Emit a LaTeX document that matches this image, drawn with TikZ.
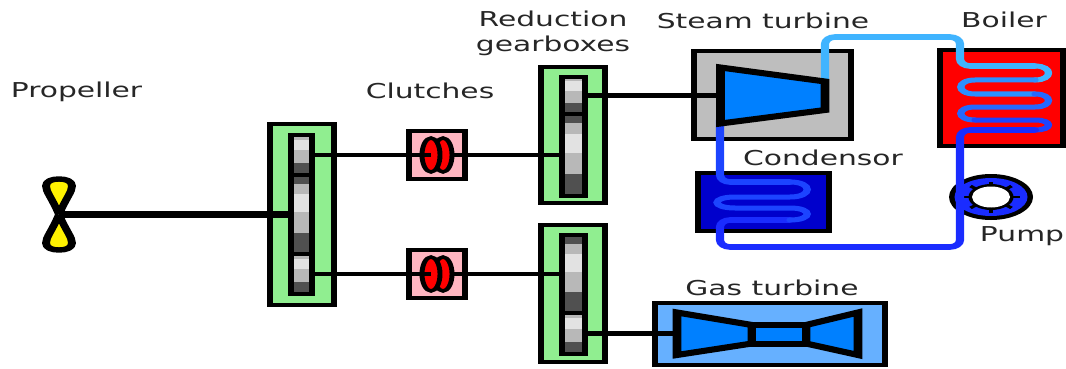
\documentclass[tikz,border=0pt]{standalone}
\usepackage{fontspec}
\setmainfont{DejaVu Sans}
\usetikzlibrary{shapes.geometric}
\definecolor{gearlight}{HTML}{E2E2E2}
\definecolor{gearmid}{HTML}{B8B8B8}
\definecolor{geardark}{HTML}{505050}
\definecolor{boxgreen}{HTML}{90EE90}
\definecolor{clutchpink}{HTML}{FFB6C1}
\definecolor{steamgrey}{HTML}{BEBEBE}
\definecolor{turbblue}{HTML}{0080FF}
\definecolor{gasbox}{HTML}{66B0FF}
\definecolor{condbox}{HTML}{0000CC}
\definecolor{pipeA}{HTML}{40B4FF}
\definecolor{pipeB}{HTML}{2C90FF}
\definecolor{pipeC}{HTML}{2468FF}
\definecolor{pipeD}{HTML}{1C44FF}
\definecolor{pipeE}{HTML}{1A2CFF}
\tikzset{
  mech/.style={rectangle,draw=black,line width=4pt,inner sep=0pt,outer sep=0pt},
  gearbox/.style={mech,fill=boxgreen},
  gearframe/.style={mech},
  clutchbox/.style={mech,fill=clutchpink},
  plate/.style={ellipse,draw=black,fill=red,line width=3.4pt,inner sep=0pt,outer sep=0pt},
  plant/.style={mech},
  blade/.style={draw=black,line width=5.4pt,line join=round},
  turb/.style={draw=black,fill=turbblue,line width=6pt,line join=miter},
  thickshaft/.style={draw=black,line width=7pt},
  shaft/.style={draw=black,line width=4.5pt},
  pipe/.style={line width=5.6pt,rounded corners=7pt,line cap=round},
  coil/.style={line width=5pt,line cap=round},
  lab/.style={font=\fontsize{20.5}{25}\selectfont,text=black!85,align=center,inner sep=0pt}
}
\newcommand{\boxnode}[6]{\node[#6,minimum width={(#4-#2)*0.68966pt},minimum height={(#5-#3)*1pt}] (#1) at ({(#2+#4)/2},{(#3+#5)/2}) {};}
\newcommand{\smallbands}[4]{\foreach \pa/\pb/\pc in {0/.12/gearmid,.12/.38/gearlight,.38/.7/gearmid,.7/1/geardark}
  \fill[fill=\pc] (#1,{#2+\pa*(#4-#2)}) rectangle (#3,{#2+\pb*(#4-#2)});}
\newcommand{\largebands}[4]{\foreach \pa/\pb/\pc in {0/.11/geardark,.11/.24/gearmid,.24/.47/gearlight,.47/.73/gearmid,.73/1/geardark}
  \fill[fill=\pc] (#1,{#2+\pa*(#4-#2)}) rectangle (#3,{#2+\pb*(#4-#2)});}
\begin{document}
\begin{tikzpicture}
\useasboundingbox (0pt,0pt) rectangle (1066pt,-369pt);
\begin{scope}[transform canvas={xscale=1.45},x=0.68966pt,y=-1pt]
% gearboxes
\boxnode{boxL}{270}{124}{334}{305}{gearbox}
\boxnode{boxRa}{541}{67}{605}{203}{gearbox}
\boxnode{boxRb}{541}{225}{605}{362}{gearbox}
% gear bands
\smallbands{291}{135}{312}{175}
\largebands{291}{175}{312}{254}
\smallbands{291}{254}{312}{294}
\smallbands{562}{77}{585}{114}
\largebands{562}{114}{585}{196}
\largebands{562}{235}{585}{313}
\smallbands{562}{313}{585}{354}
% gear frames
\boxnode{gL1}{291}{135}{312}{175}{gearframe}
\boxnode{gL2}{291}{175}{312}{254}{gearframe}
\boxnode{gL3}{291}{254}{312}{294}{gearframe}
\boxnode{gRa1}{562}{77}{585}{114}{gearframe}
\boxnode{gRa2}{562}{114}{585}{196}{gearframe}
\boxnode{gRb1}{562}{235}{585}{313}{gearframe}
\boxnode{gRb2}{562}{313}{585}{354}{gearframe}
% clutches
\boxnode{clA}{409}{131}{465}{179}{clutchbox}
\boxnode{clB}{409}{250}{465}{298}{clutchbox}
\boxnode{plA2}{434}{138}{452}{172}{plate}
\boxnode{plA1}{422}{138}{440}{172}{plate}
\boxnode{plB2}{434}{257}{452}{291}{plate}
\boxnode{plB1}{422}{257}{440}{291}{plate}
% plant boxes
\boxnode{steam}{694}{51}{851}{139}{plant,fill=steamgrey}
\boxnode{boiler}{940}{50}{1063}{146}{plant,fill=red}
\boxnode{cond}{698}{173}{829}{231}{plant,fill=condbox}
\boxnode{gas}{655}{303}{885}{365}{plant,fill=gasbox}
% propeller
\coordinate (prop) at (59,214.5);
\path[blade,fill=yellow] (prop) .. controls (52,198) and (46,192) .. (46,186) .. controls (46,181) and (52,179) .. (59,179) .. controls (66,179) and (72,181) .. (72,186) .. controls (72,192) and (66,198) .. (prop);
\path[blade,fill=yellow] (prop) .. controls (52,231) and (46,237) .. (46,243) .. controls (46,248) and (52,250) .. (59,250) .. controls (66,250) and (72,248) .. (72,243) .. controls (72,237) and (66,231) .. (prop);
% shafts
\coordinate (steamin) at (716,95.5);
\coordinate (gasin) at (674,333.5);
\draw[thickshaft] (prop) -- (gL2.west);
\draw[shaft] (gL1.east) -- (plA1.center);
\draw[shaft] (plA2.east) -- (gRa2.west);
\draw[shaft] (gL3.east) -- (plB1.center);
\draw[shaft] (plB2.east) -- (gRb1.west);
\draw[shaft] (gRa1.east) -- (steamin);
\draw[shaft] (gRb2.east) -- (gasin);
% pump
\coordinate (pump) at (991,197);
\fill[black] (pump) circle [x radius=42,y radius=23];
\fill[pipeE] (pump) circle [x radius=36.5,y radius=19];
\foreach \ang in {0,45,...,315}
  \draw[black,line width=2.8pt] (pump) -- ++({29*cos(\ang)},{15.5*sin(\ang)});
\fill[black] (pump) circle [x radius=22.5,y radius=13];
\fill[white] (pump) circle [x radius=19,y radius=10.5];
% pipes
\draw[pipe,pipeA] (825,80) -- (825,37) -- (960,37) -- (960,66) -- (1035,66);
\draw[coil,pipeA] (1035,66) .. controls (1053,66) and (1053,80) .. (1035,80);
\draw[coil,pipeB] (1035,80) -- (975,80) .. controls (956,80) and (956,94) .. (975,94) -- (1035,94);
\draw[coil,pipeC] (1035,94) .. controls (1053,94) and (1053,107) .. (1035,107) -- (975,107) .. controls (956,107) and (956,120) .. (975,120);
\draw[coil,pipeD] (975,120) -- (1035,120) .. controls (1053,120) and (1053,130) .. (1035,130);
\draw[pipe,pipeE] (1035,130) -- (960,130) -- (960,247) -- (720,247) -- (720,220) -- (790,220);
\draw[pipe,pipeD] (720,120) -- (720,182) -- (790,182);
\draw[coil,pipeD] (790,182) .. controls (813,182) and (813,197) .. (790,197) -- (735,197) .. controls (711,197) and (711,208) .. (735,208) -- (790,208) .. controls (813,208) and (813,220) .. (790,220);
% turbines
\draw[turb] (720.5,67.5) -- (825,81.5) -- (825,110) -- (720.5,123.5) -- cycle;
\draw[turb] (677,312.5) -- (752,325) -- (752,343.5) -- (677,355) -- cycle;
\draw[turb] (858,312.5) -- (806,325) -- (806,343.5) -- (858,355) -- cycle;
\draw[turb] (752,325) rectangle (806,343.5);
% labels
\node[lab] (tProp) at (76.5,92) {Propeller};
\node[lab] (tClutch) at (430,91) {Clutches};
\node[lab] (tRed) at (553,33) {Reduction\\gearboxes};
\node[lab] (tSteam) at (763,21) {Steam turbine};
\node[lab] (tBoiler) at (1004,20) {Boiler};
\node[lab] (tCond) at (823,158) {Condensor};
\node[lab] (tPump) at (1022,236) {Pump};
\node[lab] (tGas) at (772,288) {Gas turbine};
\end{scope}
\end{tikzpicture}
\end{document}
